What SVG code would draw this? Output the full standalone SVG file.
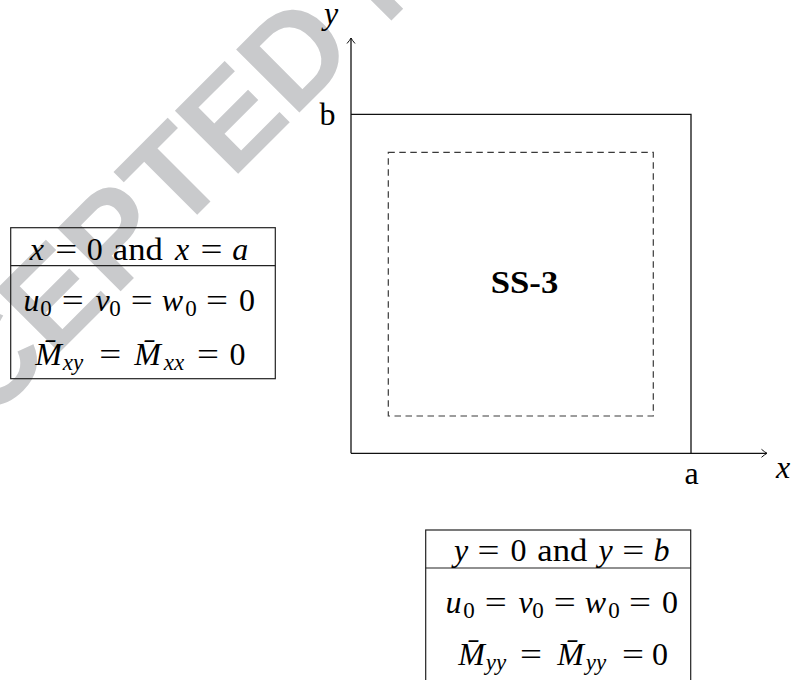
<svg xmlns="http://www.w3.org/2000/svg" width="791" height="680" viewBox="0 0 791 680">
<style>
.ln { fill: none; stroke: #111; stroke-width: 1.3; }
.tb { fill: none; stroke: #222; stroke-width: 1.2; }
.dash { fill: none; stroke: #3a3a3a; stroke-width: 1.2; stroke-dasharray: 6.5 4.5; }
</style>
<defs>
<marker id="arr" markerUnits="userSpaceOnUse" viewBox="-7 -6 8 12" refX="0" refY="0" markerWidth="8" markerHeight="12" orient="auto" overflow="visible">
<path d="M-5.5,-4 Q-2,-1 0,0 Q-2,1 -5.5,4" fill="none" stroke="#111" stroke-width="1"/>
</marker>
</defs>
<rect width="791" height="680" fill="#fff"/>
<g id="watermark">
<text font-family="Liberation Sans" font-weight="bold" font-size="130" fill="#c9cacc" transform="translate(-146,558) rotate(-45)" x="0" y="0">ACCEPTED MANUSCRIPT</text>
</g>
<g id="connectors">
<line class="ln" x1="351" y1="453.3" x2="351" y2="38" marker-end="url(#arr)"/>
<line class="ln" x1="351" y1="453.3" x2="767" y2="453.3" marker-end="url(#arr)"/>
</g>
<g id="plate">
<polyline class="ln" points="351,114.3 691,114.3 691,453.3"/>
<rect class="dash" x="388.3" y="152.3" width="265" height="263.7"/>
<text font-family="Liberation Serif" font-weight="bold" font-size="31" text-anchor="middle" fill="#000" x="524.5" y="293" textLength="67.5" lengthAdjust="spacingAndGlyphs">SS-3</text>
</g>
<g id="axis-labels">
<text font-family="Liberation Serif" font-size="32" font-style="italic" text-anchor="middle" x="331" y="24">y</text>
<text font-family="Liberation Serif" font-size="32" text-anchor="middle" x="327.5" y="125">b</text>
<text font-family="Liberation Serif" font-size="32" text-anchor="middle" x="691.5" y="484">a</text>
<text font-family="Liberation Serif" font-size="32" font-style="italic" text-anchor="middle" x="783" y="478">x</text>
</g>
<g id="table-x">
<rect class="tb" x="10.7" y="227.7" width="264.6" height="151"/>
<line class="tb" x1="10.7" y1="265.7" x2="275.3" y2="265.7"/>
<text font-family="Liberation Serif" font-size="32" text-anchor="middle" y="260"><tspan font-style="italic" x="36.9">x</tspan><tspan x="66.3" textLength="22" lengthAdjust="spacingAndGlyphs">=</tspan><tspan x="94.8">0</tspan><tspan x="137.8" textLength="50" lengthAdjust="spacingAndGlyphs">and</tspan><tspan font-style="italic" x="182">x</tspan><tspan x="211.5" textLength="22" lengthAdjust="spacingAndGlyphs">=</tspan><tspan font-style="italic" x="240.3">a</tspan></text>
<text font-family="Liberation Serif" font-size="32" text-anchor="middle" y="311"><tspan font-style="italic" x="31.6">u</tspan><tspan font-size="23" x="46" y="315.5">0</tspan><tspan x="72.8" y="311" textLength="22" lengthAdjust="spacingAndGlyphs">=</tspan><tspan font-style="italic" x="102.5">v</tspan><tspan font-size="23" x="115" y="315.5">0</tspan><tspan x="141.8" y="311" textLength="22" lengthAdjust="spacingAndGlyphs">=</tspan><tspan font-style="italic" x="172.5">w</tspan><tspan font-size="23" x="191" y="315.5">0</tspan><tspan x="217" y="311" textLength="22" lengthAdjust="spacingAndGlyphs">=</tspan><tspan x="247" y="311">0</tspan></text>
<text font-family="Liberation Serif" font-size="32" text-anchor="middle" y="365"><tspan font-style="italic" x="48.5">M&#x0304;</tspan><tspan font-size="23" font-style="italic" x="73" y="369.5">xy</tspan><tspan x="110.3" y="365" textLength="22" lengthAdjust="spacingAndGlyphs">=</tspan><tspan font-style="italic" x="147.5">M&#x0304;</tspan><tspan font-size="23" font-style="italic" x="174" y="369.5">xx</tspan><tspan x="208" y="365" textLength="22" lengthAdjust="spacingAndGlyphs">=</tspan><tspan x="237.5" y="365">0</tspan></text>
</g>
<g id="table-y">
<rect class="tb" x="425.7" y="530" width="265" height="151"/>
<line class="tb" x1="425.7" y1="568" x2="690.7" y2="568"/>
<text font-family="Liberation Serif" font-size="32" text-anchor="middle" y="561"><tspan font-style="italic" x="461">y</tspan><tspan x="488.5" textLength="22" lengthAdjust="spacingAndGlyphs">=</tspan><tspan x="518.6">0</tspan><tspan x="562.3" textLength="50" lengthAdjust="spacingAndGlyphs">and</tspan><tspan font-style="italic" x="605.5">y</tspan><tspan x="633.3" textLength="22" lengthAdjust="spacingAndGlyphs">=</tspan><tspan font-style="italic" x="661.6">b</tspan></text>
<text font-family="Liberation Serif" font-size="32" text-anchor="middle" y="613"><tspan font-style="italic" x="453.6">u</tspan><tspan font-size="23" x="469" y="617.5">0</tspan><tspan x="495.8" y="613" textLength="22" lengthAdjust="spacingAndGlyphs">=</tspan><tspan font-style="italic" x="525.5">v</tspan><tspan font-size="23" x="538" y="617.5">0</tspan><tspan x="564.8" y="613" textLength="22" lengthAdjust="spacingAndGlyphs">=</tspan><tspan font-style="italic" x="595.5">w</tspan><tspan font-size="23" x="614" y="617.5">0</tspan><tspan x="640" y="613" textLength="22" lengthAdjust="spacingAndGlyphs">=</tspan><tspan x="670" y="613">0</tspan></text>
<text font-family="Liberation Serif" font-size="32" text-anchor="middle" y="665"><tspan font-style="italic" x="471.5">M&#x0304;</tspan><tspan font-size="23" font-style="italic" x="496" y="669.5">yy</tspan><tspan x="531" y="665" textLength="22" lengthAdjust="spacingAndGlyphs">=</tspan><tspan font-style="italic" x="570.5">M&#x0304;</tspan><tspan font-size="23" font-style="italic" x="596" y="669.5">yy</tspan><tspan x="633" y="665" textLength="22" lengthAdjust="spacingAndGlyphs">=</tspan><tspan x="660" y="665">0</tspan></text>
</g>
</svg>
